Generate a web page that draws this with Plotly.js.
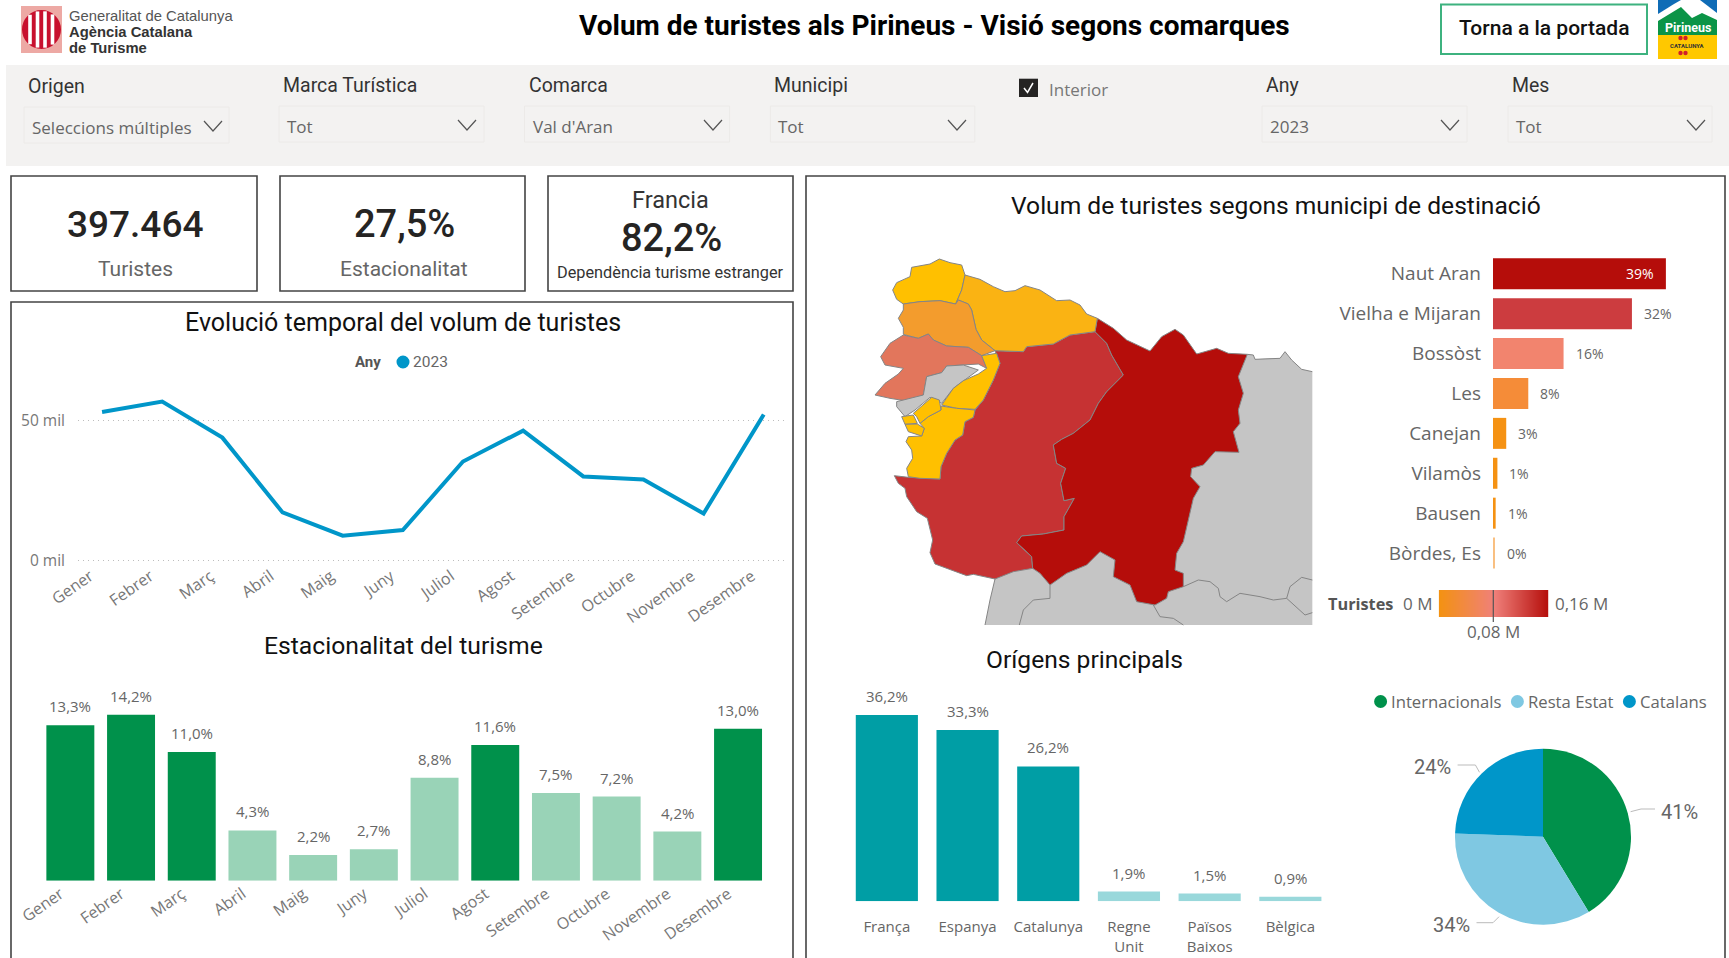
<!DOCTYPE html>
<html><head><meta charset="utf-8">
<script src="https://cdn.plot.ly/plotly-3.0.1.min.js"></script>
<style>html,body{margin:0;padding:0;background:#fff;overflow:hidden}#c{width:1729px;height:958px}</style>
</head><body><div id="c"></div>
<script>
// ---- data ----
const months = ['Gener','Febrer','Març','Abril','Maig','Juny','Juliol','Agost','Setembre','Octubre','Novembre','Desembre'];
const touristsThousands = [52.9,56.6,43.8,17.2,8.9,10.9,35.3,46.3,30.0,28.9,16.8,52.0];
const seasonality = [13.3,14.2,11.0,4.3,2.2,2.7,8.8,11.6,7.5,7.2,4.2,13.0];
const originNames = ['França','Espanya','Catalunya','Regne<br>Unit','Països<br>Baixos','Bèlgica'];
const originShares = [36.2,33.3,26.2,1.9,1.5,0.9];
const municipalities = ['Naut Aran','Vielha e Mijaran','Bossòst','Les','Canejan','Vilamòs','Bausen','Bòrdes, Es'];
const municipalityShares = [39.2,31.5,16.0,8.0,3.0,1.0,0.6,0.45];
const municipalityColors = ['#B50D0A','#CC3C3F','#F2846E','#F58C38','#F59213','#F59213','#F59213','#F9BF80'];
const pieLabels = ['Internacionals','Resta Estat','Catalans'];
const pieValues = [41.3,34.3,24.4];
const pieColors = ['#00914B','#7FC8E2','#0096C9'];
const legendScale = [0,0.08,0.16];
const regionGrayRest = [[1222,343],[1240,345],[1245,358],[1290,355],[1320,355],[1335,335],[1355,360],[1385,388],[1417,395],[1417,1155],[435,1155],[450,1080],[465,1017],[520,995],[578,985],[600,1000],[630,1035],[680,1000],[740,975],[780,935],[825,960],[820,1010],[870,1035],[890,1085],[945,1095],[980,1075],[985,1055],[1030,1040],[1030,1000],[1005,990],[1010,940],[1030,905],[1040,860],[1060,775],[1080,740],[1052,710],[1055,685],[1090,675],[1125,635],[1197,637],[1180,575],[1200,550],[1195,510],[1210,460],[1195,410],[1222,343]];
const coastNorth = [[1222,343],[1240,345],[1245,358],[1290,355],[1320,355],[1335,335],[1355,360],[1385,388],[1417,395]];
const coastSouth = [[465,1017],[450,1080],[435,1155]];
const borderA = [[630,1035],[630,1075],[580,1080],[550,1110],[538,1155]];
const borderB = [[940,1095],[960,1130],[1000,1135],[1030,1155]];
const borderC = [[1030,1040],[1075,1020],[1110,1025],[1135,1045],[1140,1070],[1160,1085],[1200,1060],[1260,1070],[1300,1080],[1340,1075],[1350,1040],[1385,1012],[1417,1020]];
const borderD = [[1340,1075],[1395,1125],[1417,1118]];
const regionArres = [[215,82],[270,72],[298,57],[330,68],[365,75],[375,105],[365,150],[347,192],[300,182],[240,185],[190,192],[170,178],[158,150],[170,128],[210,110],[215,82]];
const regionLes = [[375,105],[420,118],[460,140],[495,155],[525,152],[555,137],[600,150],[650,182],[690,180],[720,195],[740,222],[772,235],[765,275],[690,285],[640,312],[560,320],[550,335],[465,332],[425,300],[408,268],[395,210],[385,192],[355,180],[347,192],[365,150],[375,105]];
const regionCanejan = [[190,192],[240,185],[300,182],[347,192],[355,180],[385,192],[395,210],[408,268],[425,300],[465,332],[425,347],[385,322],[320,318],[280,300],[265,282],[235,295],[190,283],[190,262],[175,235],[190,210],[190,192]];
const regionBossost = [[190,285],[235,295],[265,282],[280,300],[320,318],[385,322],[425,347],[440,385],[415,372],[320,378],[305,398],[260,410],[250,465],[200,483],[150,475],[105,465],[135,430],[175,402],[190,385],[135,375],[122,350],[150,310],[190,285]];
const regionCentralGray = [[320,378],[370,375],[415,390],[370,422],[340,445],[305,490],[270,472],[225,510],[195,530],[170,500],[170,485],[250,465],[260,410],[305,398],[320,378]];
const regionBausen = [[425,347],[470,340],[480,370],[460,420],[430,480],[405,508],[350,505],[305,495],[340,445],[370,422],[415,402],[440,385],[425,347]];
const regionVilamos = [[220,520],[275,472],[298,480],[303,510],[265,530],[240,550],[230,530],[220,520]];
const regionBordes = [[185,530],[220,525],[232,550],[195,553],[185,530]];
const regionSmall = [[195,553],[232,552],[253,565],[245,588],[205,575],[195,553]];
const regionSouthYellow = [[303,498],[350,505],[405,510],[400,532],[375,545],[368,585],[345,600],[320,640],[303,680],[300,717],[240,715],[205,710],[200,685],[218,655],[215,630],[198,605],[205,590],[245,588],[253,565],[240,550],[265,530],[303,510],[303,498]];
const regionVielha = [[465,332],[550,335],[560,320],[640,312],[690,285],[765,275],[800,310],[815,345],[850,405],[800,455],[775,490],[750,540],[700,580],[665,598],[640,615],[650,670],[677,685],[662,730],[672,782],[703,775],[672,830],[672,870],[610,882],[545,888],[530,908],[552,928],[575,950],[578,985],[520,995],[465,1017],[400,1003],[380,1007],[335,990],[285,972],[270,938],[278,900],[262,835],[230,815],[200,770],[195,745],[175,730],[163,707],[205,712],[300,717],[303,680],[320,640],[345,600],[368,585],[375,545],[400,532],[405,510],[430,480],[460,420],[480,370],[465,332]];
const regionNautAran = [[772,235],[820,265],[860,300],[905,320],[930,333],[965,290],[1005,268],[1030,285],[1055,320],[1070,342],[1130,325],[1165,340],[1222,343],[1195,410],[1210,460],[1195,510],[1200,550],[1180,575],[1197,637],[1140,637],[1125,635],[1090,675],[1055,685],[1052,710],[1080,740],[1060,775],[1040,860],[1030,905],[1010,940],[1005,990],[1030,1000],[1030,1040],[985,1055],[980,1075],[945,1095],[890,1085],[870,1035],[820,1010],[825,960],[780,935],[740,975],[680,1000],[630,1035],[600,1000],[578,985],[575,950],[552,928],[530,908],[545,888],[610,882],[672,870],[672,830],[703,775],[672,782],[662,730],[677,685],[650,670],[640,615],[665,598],[700,580],[750,540],[775,490],[800,455],[850,405],[815,345],[800,310],[765,275],[772,235]];

// ---- helpers ----
const W=1729,H=958;
const DIN='Roboto, sans-serif', SEG='"Open Sans", sans-serif';
const px=x=>x/W, py=y=>1-y/H;
const xd=(a,b)=>[a/W,b/W], yd=(t,b)=>[1-b/H,1-t/H];
const comma=v=>v.toFixed(1).replace('.',',')+'%';
const annotations=[], shapes=[];
function T(x,y,text,o={}){annotations.push(Object.assign({xref:'paper',yref:'paper',x:px(x),y:py(y),text,showarrow:false,xanchor:o.a||'center',yanchor:'middle',font:{family:o.f||DIN,size:o.s||16,color:o.c||'#252423',weight:o.w||400}},o.extra||{}));}
function R(x0,y0,x1,y1,fill,line,lw,layer){shapes.push({type:'rect',xref:'paper',yref:'paper',x0:px(x0),x1:px(x1),y0:py(y0),y1:py(y1),fillcolor:fill||'rgba(0,0,0,0)',line:{color:line||'rgba(0,0,0,0)',width:lw||0},layer:layer||'below'});}
function L(pts,color,lw,fill){const d=pts.map((p,i)=>(i?'L':'M')+' '+px(p[0])+' '+py(p[1])).join(' ')+(fill?' Z':'');shapes.push({type:'path',xref:'paper',yref:'paper',path:d,line:{color:color,width:lw||0},fillcolor:fill||'rgba(0,0,0,0)',layer:'above'});}
function C(x,y,r,fill){shapes.push({type:'circle',xref:'paper',yref:'paper',x0:px(x-r),x1:px(x+r),y0:py(y+r),y1:py(y-r),fillcolor:fill,line:{width:0},layer:'above'});}

// ---- header ----
T(934.6,25,'Volum de turistes als Pirineus - Visió segons comarques',{s:28,w:700,c:'#000'});
R(1441,4.5,1647,54,'#fff','#3DB27F',2);
T(1544,28,'Torna a la portada',{s:21,w:500,c:'#111'});
// Generalitat logo
R(21,6,62,53,'#EDA9A4',null,0,'above');
C(41.5,29.5,19.5,'#C8102E');
[[30,12],[37.5,20],[45,20],[52.5,12]].forEach(b=>{const dx=Math.abs(b[0]-41.5),h=Math.sqrt(19.5*19.5-dx*dx);R(b[0]-1.8,29.5-h+1,b[0]+1.8,29.5+h-1,'#fff',null,0,'above');});
T(67,16,'Generalitat de Catalunya',{a:'left',f:'"Liberation Sans",Arial',s:14.8,c:'#555'});
T(67,32,'Agència Catalana',{a:'left',f:'"Liberation Sans",Arial',s:14.8,w:700,c:'#333'});
T(67,47.7,'de Turisme',{a:'left',f:'"Liberation Sans",Arial',s:14.8,w:700,c:'#333'});
// Pirineus logo
R(1658,0,1717,59,'#0F6CB6',null,0,'above');
L([[1658,14],[1674,4],[1681,0],[1700,0],[1717,13],[1717,36],[1658,36]],'#fff',0,'#fff');
L([[1658,21],[1681,7],[1692,18],[1702,13],[1717,20],[1717,36],[1658,36]],'#0B9447',0,'#0B9447');
R(1658,35,1717,59,'#FFC800',null,0,'above');
T(1687.5,27.5,'Pirineus',{s:12.5,w:700,c:'#fff'});
T(1687.5,46,'CATALUNYA',{s:6,w:700,c:'#333'});
[[1680,38],[1685,38],[1680,53],[1685,53]].forEach(p=>C(p[0]+0.5,p[1],2.2,'#D0202A'));

// ---- filter bar ----
R(6,65,1729,166,'#F3F2F1');
const filterBoxes=[[24,229,'Origen','Seleccions múltiples',86.5,127,204],[279,484,'Marca Turística','Tot',85.7,126,458],[524.5,729.6,'Comarca',"Val d'Aran",85.7,126,704],[770.4,974.8,'Municipi','Tot',85.7,126,948],[1262,1467,'Any','2023',85.7,126,1441],[1508,1712,'Mes','Tot',85.7,126,1687]];
filterBoxes.forEach(b=>{
  const top=b[2]==='Origen'?107:106;
  R(b[0],top,b[1],top+36,'#F3F2F1','#ECEAE8',1);
  T(b[0]+2,b[4],b[2],{a:'left',s:19.5,c:'#333'});
  T(b[0]+6,b[5],b[3],{a:'left',f:SEG,s:17,c:'#666'});
  L([[b[6],top+14],[b[6]+9,top+24],[b[6]+18,top+14]],'#555',1.2);
});
R(1019,78.7,1038,97,'#252423',null,0,'above');
L([[1024,88],[1027.5,92.5],[1033,83]],'#fff',1.5);
T(1047,89,'Interior',{a:'left',f:SEG,s:17,c:'#777'});

// ---- KPI cards and panels ----
const BD='#444';
R(11,176,257,291,'#fff',BD,1.6);
R(280,176,525,291,'#fff',BD,1.6);
R(548,176,793,291,'#fff',BD,1.6);
R(11,302,793,990,'#fff',BD,1.6);
R(806,176,1725,990,'#fff',BD,1.6);
T(135,224,'397.464',{s:37,w:500,c:'#252423'});
T(135,268.7,'Turistes',{s:21,c:'#666'});
T(404,224,'27,5%',{s:38,w:500,c:'#252423'});
T(404,268.7,'Estacionalitat',{s:21,c:'#666'});
T(670.5,200,'Francia',{s:23.5,c:'#333'});
T(671,238,'82,2%',{s:38,w:500,c:'#252423'});
T(670,273,'Dependència turisme estranger',{s:16.3,c:'#333'});

// ---- titles ----
T(403,322,'Evolució temporal del volum de turistes',{s:25,c:'#111'});
T(403,645,'Estacionalitat del turisme',{s:24.7,c:'#111'});
T(1276,205.5,'Volum de turistes segons municipi de destinació',{s:24.6,c:'#111'});
T(1084,659,'Orígens principals',{s:24.6,c:'#111'});

// line legend
T(368,362,'Any',{s:15,w:700,c:'#555'});
C(403,362,6.5,'#0096C9');
T(411,362,'2023',{a:'left',s:15.5,c:'#666'});

// pie legend
const pieLegX=[[1380.6,1389],[1517.4,1526],[1629.4,1637.5]];
pieLabels.forEach((n,i)=>{C(pieLegX[i][0],701.5,6.5,pieColors[i]);T(pieLegX[i][1],701,n,{a:'left',f:SEG,s:16.7,c:'#666'});});
// pie callouts
T(1679,812,Math.round(pieValues[0])+'%',{s:20,c:'#666'});
T(1451.6,925,Math.round(pieValues[1])+'%',{s:20,c:'#666'});
T(1432.7,767,Math.round(pieValues[2])+'%',{s:20,c:'#666'});
L([[1630.6,811.7],[1641,809],[1655,809]],'#BBB',1);
L([[1457.6,765],[1475.4,765],[1479.5,772.3]],'#BBB',1);
L([[1476.5,922.7],[1493,922.7],[1499,916.7]],'#BBB',1);

// map legend
T(1360,604,'Turistes',{f:SEG,s:16.3,w:700,c:'#555'});
T(1433.5,603.5,'0 M',{a:'right',f:SEG,s:17,c:'#666'});
T(1552.7,603.5,'0,16 M',{a:'left',f:SEG,s:17,c:'#666'});
T(1493.3,631.7,'0,08 M',{f:SEG,s:17,c:'#666'});
L([[1493.3,590],[1493.3,622]],'#555',1.2);

// value labels driven by the chart data
seasonality.forEach((v,i)=>annotations.push({xref:'x2',yref:'y2',x:i,y:v,yshift:19,text:comma(v),showarrow:false,yanchor:'middle',font:{family:SEG,size:15,color:'#666'}}));
originShares.forEach((v,i)=>annotations.push({xref:'x3',yref:'y3',x:i,y:v,yshift:19,text:comma(v),showarrow:false,yanchor:'middle',font:{family:SEG,size:15,color:'#666'}}));
municipalityShares.forEach((v,i)=>{const inside=v>35;annotations.push({xref:'x4',yref:'y4',x:v,y:i,xshift:inside?-10:10,text:Math.round(v)+'%',showarrow:false,xanchor:inside?'right':'left',yanchor:'middle',font:{family:SEG,size:14,color:inside?'#fff':'#666'}});});

const MAPLINE='#858585';
const poly=(p,fill)=>({type:'scatter',xaxis:'x5',yaxis:'y5',x:p.map(q=>q[0]),y:p.map(q=>q[1]),mode:'lines',fill:'toself',fillcolor:fill,line:{color:MAPLINE,width:1},hoverinfo:'skip',showlegend:false});
const bare=(p,fill)=>({type:'scatter',xaxis:'x5',yaxis:'y5',x:p.map(q=>q[0]),y:p.map(q=>q[1]),mode:'none',fill:'toself',fillcolor:fill,hoverinfo:'skip',showlegend:false});
const stroke=p=>({type:'scatter',xaxis:'x5',yaxis:'y5',x:p.map(q=>q[0]),y:p.map(q=>q[1]),mode:'lines',line:{color:MAPLINE,width:1},hoverinfo:'skip',showlegend:false});

const data=[
 {type:'scatter',xaxis:'x',yaxis:'y',x:months,y:touristsThousands,mode:'lines',line:{color:'#0096C9',width:4},showlegend:false},
 {type:'bar',xaxis:'x2',yaxis:'y2',x:months,y:seasonality,width:0.79,marker:{color:seasonality.map(v=>v>=10?'#00914B':'#99D3B7')},showlegend:false},
 {type:'bar',xaxis:'x3',yaxis:'y3',x:originNames,y:originShares,width:0.77,marker:{color:originShares.map(v=>v>=10?'#009EA5':'#99D8DB')},showlegend:false},
 {type:'bar',orientation:'h',xaxis:'x4',yaxis:'y4',y:municipalities,x:municipalityShares,width:0.777,marker:{color:municipalityColors},showlegend:false},
 bare(regionGrayRest,'#C5C5C5'),stroke(coastNorth),stroke(coastSouth),stroke(borderA),stroke(borderB),stroke(borderC),stroke(borderD),
 poly(regionVielha,'#C63233'),poly(regionNautAran,'#B50D0A'),
 poly(regionArres,'#FFC000'),poly(regionLes,'#FAB313'),poly(regionCanejan,'#F39C2D'),poly(regionBossost,'#E2765C'),poly(regionCentralGray,'#C5C5C5'),
 poly(regionBausen,'#FFC000'),poly(regionSouthYellow,'#FFC000'),poly(regionVilamos,'#FFC000'),poly(regionBordes,'#FFC000'),poly(regionSmall,'#FFC000'),
 {type:'pie',labels:pieLabels,values:pieValues,sort:false,direction:'clockwise',rotation:0,textinfo:'none',marker:{colors:pieColors,line:{width:0}},domain:{x:xd(1455,1631),y:yd(748.7,924.7)},showlegend:false},
 {type:'heatmap',xaxis:'x6',yaxis:'y6',x:legendScale,y:[0,1],z:[legendScale,legendScale],zsmooth:'best',zmin:0,zmax:0.16,showscale:false,colorscale:[[0,'#F39212'],[0.5,'#F0807A'],[1,'#B50D0A']],hoverinfo:'skip'}
];
const off={visible:false,fixedrange:true};
const tick={family:SEG,size:16,color:'#777'};
const layout={
 width:W,height:H,margin:{l:0,r:0,t:0,b:0},paper_bgcolor:'#fff',plot_bgcolor:'rgba(0,0,0,0)',showlegend:false,shapes,annotations,
 xaxis:{domain:xd(78,786),anchor:'y',range:[-0.4,11.37],type:'category',categoryarray:months,tickangle:-35,tickfont:tick,showgrid:false,zeroline:false,showline:false,ticks:'',ticklabelshift:-12,fixedrange:true},
 yaxis:{domain:yd(380,563),anchor:'x',range:[-0.8,64.3],tickvals:[0,50],ticktext:['0 mil','50 mil'],tickfont:{family:SEG,size:15.5,color:'#777'},showgrid:true,griddash:'1px,4px',gridcolor:'#BDBDBD',gridwidth:1.3,zeroline:false,showline:false,ticks:'',ticklabelstandoff:12,fixedrange:true},
 xaxis2:{domain:xd(40,768.4),anchor:'y2',range:[-0.5,11.5],type:'category',categoryarray:months,tickangle:-35,tickfont:tick,showgrid:false,zeroline:false,showline:false,ticks:'',ticklabelshift:-10,fixedrange:true},
 yaxis2:Object.assign({domain:yd(690,880.7),anchor:'x2',range:[0,16.31]},off),
 xaxis3:{domain:xd(846.5,1330.7),anchor:'y3',range:[-0.5,5.5],type:'category',categoryarray:originNames,tickangle:0,tickfont:{family:SEG,size:15,color:'#666'},showgrid:false,zeroline:false,showline:false,ticks:'',ticklabelstandoff:15,fixedrange:true},
 yaxis3:Object.assign({domain:yd(690,901.3),anchor:'x3',range:[0,41.06]},off),
 xaxis4:Object.assign({domain:xd(1493,1720),anchor:'y4',range:[0,51.47]},off),
 yaxis4:{domain:yd(253.85,573),anchor:'x4',range:[7.5,-0.5],type:'category',categoryarray:municipalities,tickfont:{family:SEG,size:19,color:'#666'},showgrid:false,zeroline:false,showline:false,ticks:'',ticklabelstandoff:11,fixedrange:true},
 xaxis5:Object.assign({domain:xd(840,1340),anchor:'y5',range:[0,1500]},off),
 yaxis5:Object.assign({domain:yd(240,640),anchor:'x5',range:[1200,0]},off),
 xaxis6:Object.assign({domain:xd(1438.7,1548.3),anchor:'y6',range:[0,0.16]},off),
 yaxis6:Object.assign({domain:yd(590,617),anchor:'x6',range:[0,1]},off)
};
Plotly.newPlot('c',data,layout,{displayModeBar:false,staticPlot:true});
</script></body></html>
